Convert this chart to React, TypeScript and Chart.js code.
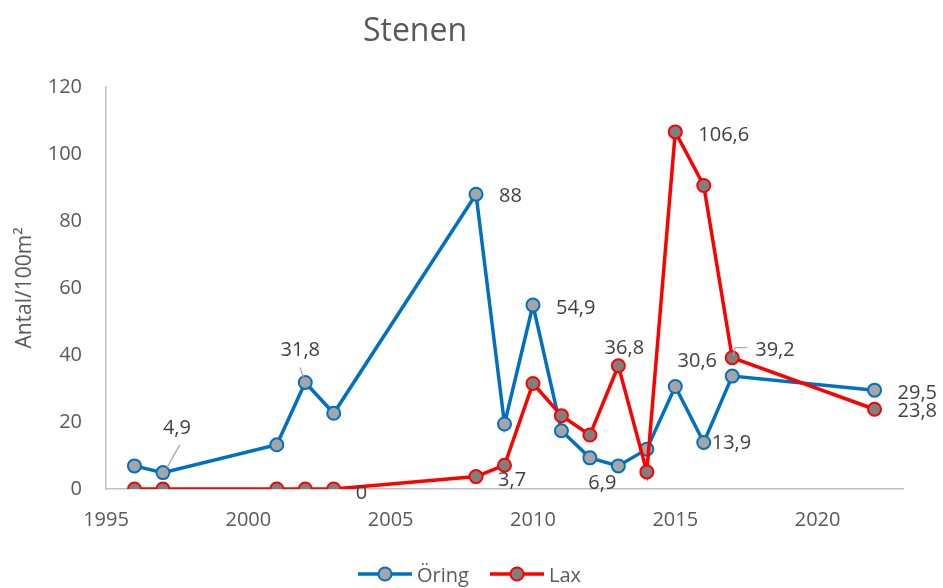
import { useEffect, useRef } from "react";
import { Chart, registerables } from "chart.js";

Chart.register(...registerables);

const title = "Stenen";
const yTitle = "Antal/100m²";
const seriesNames = ["Öring", "Lax"];
const years = [1996, 1997, 2001, 2002, 2003, 2008, 2009, 2010, 2011, 2012, 2013, 2014, 2015, 2016, 2017, 2022];
const oring = [6.9, 4.9, 13.2, 31.8, 22.6, 88, 19.4, 54.9, 17.4, 9.3, 6.9, 11.9, 30.6, 13.9, 33.7, 29.5];
const lax = [0, 0, 0, 0, 0, 3.7, 7.1, 31.5, 21.9, 16.1, 36.8, 5.1, 106.6, 90.6, 39.2, 23.8];
const xMin = 1995;
const xMax = 2023;
const xStep = 5;
const yMin = 0;
const yMax = 120;
const yStep = 20;

const FONT = '"Open Sans", sans-serif';
const BLUE = "#0070C0";
const BLUE_FILL = "#A5A5A5";
const RED = "#FF0000";
const RED_FILL = "#7F7F7F";

type Spec = {
  ds: number;
  idx: number;
  dx: number;
  dy: number;
  align: CanvasTextAlign;
  leader?: [number, number][];
};

// label placement (offsets from the point, text centre/left)
const LABEL_SPECS: Spec[] = [
  { ds: 0, idx: 1, dx: 14, dy: -46, align: "center", leader: [[4, -5], [17, -28]] },
  { ds: 0, idx: 3, dx: -5, dy: -33, align: "center", leader: [[-2, -5], [-5, -15]] },
  { ds: 0, idx: 5, dx: 23, dy: 1, align: "left" },
  { ds: 0, idx: 7, dx: 23, dy: 2, align: "left" },
  { ds: 0, idx: 10, dx: -16, dy: 16, align: "center" },
  { ds: 0, idx: 12, dx: 22, dy: -26, align: "center" },
  { ds: 0, idx: 13, dx: 8, dy: 0, align: "left" },
  { ds: 0, idx: 15, dx: 23, dy: 2, align: "left" },
  { ds: 1, idx: 4, dx: 22, dy: 3, align: "left" },
  { ds: 1, idx: 5, dx: 22, dy: 2, align: "left" },
  { ds: 1, idx: 10, dx: 6, dy: -19, align: "center" },
  { ds: 1, idx: 12, dx: 23, dy: 2, align: "left" },
  { ds: 1, idx: 14, dx: 23, dy: -9, align: "left", leader: [[1, -2], [3, -10], [15, -10]] },
  { ds: 1, idx: 15, dx: 23, dy: 1, align: "left" },
];

const fmt = (v: number) => String(v).replace(".", ",");

const labelPlugin = {
  id: "pointLabels",
  afterDatasetsDraw(chart: any) {
    const ctx = chart.ctx as CanvasRenderingContext2D;
    ctx.save();
    ctx.font = `20px ${FONT}`;
    for (const s of LABEL_SPECS) {
      const el = chart.getDatasetMeta(s.ds).data[s.idx];
      if (!el) continue;
      const x = el.x;
      const y = el.y;
      if (s.leader) {
        ctx.strokeStyle = "#A6A6A6";
        ctx.lineWidth = 1.2;
        ctx.beginPath();
        s.leader.forEach(([lx, ly], i) => {
          if (i === 0) ctx.moveTo(x + lx, y + ly);
          else ctx.lineTo(x + lx, y + ly);
        });
        ctx.stroke();
      }
      const value = chart.data.datasets[s.ds].data[s.idx].y;
      ctx.fillStyle = "#404040";
      ctx.textAlign = s.align;
      ctx.textBaseline = "alphabetic";
      ctx.fillText(fmt(value), x + s.dx, y + s.dy + 7);
    }
    ctx.restore();
  },
};

const decorPlugin = {
  id: "decor",
  afterDraw(chart: any) {
    const ctx = chart.ctx as CanvasRenderingContext2D;
    ctx.save();
    // title
    ctx.font = `32px ${FONT}`;
    ctx.fillStyle = "#595959";
    ctx.textAlign = "center";
    ctx.textBaseline = "alphabetic";
    ctx.fillText(title, 415, 41);
    // legend
    const items = [
      { name: seriesNames[0], color: BLUE, fill: BLUE_FILL, x: 358 },
      { name: seriesNames[1], color: RED, fill: RED_FILL, x: 490 },
    ];
    const ly = 574;
    for (const it of items) {
      ctx.strokeStyle = it.color;
      ctx.lineWidth = 3.5;
      ctx.beginPath();
      ctx.moveTo(it.x, ly);
      ctx.lineTo(it.x + 54, ly);
      ctx.stroke();
      ctx.beginPath();
      ctx.arc(it.x + 27, ly, 6.5, 0, Math.PI * 2);
      ctx.fillStyle = it.fill;
      ctx.fill();
      ctx.lineWidth = 2;
      ctx.stroke();
      ctx.font = `20px ${FONT}`;
      ctx.fillStyle = "#595959";
      ctx.textAlign = "left";
      ctx.fillText(it.name, it.x + 59, 582);
    }
    ctx.restore();
  },
};

export default function App() {
  const ref = useRef<HTMLCanvasElement | null>(null);
  useEffect(() => {
    if (!ref.current) return;
    const chart = new Chart(ref.current, {
      type: "line",
      data: {
        datasets: [
          {
            label: seriesNames[0],
            data: years.map((x, i) => ({ x, y: oring[i] })),
            borderColor: BLUE,
            backgroundColor: BLUE_FILL,
            pointBackgroundColor: BLUE_FILL,
            pointBorderColor: BLUE,
            borderWidth: 3.5,
            pointRadius: 6.5,
            pointBorderWidth: 2,
            tension: 0,
            order: 1,
          },
          {
            label: seriesNames[1],
            data: years.map((x, i) => ({ x, y: lax[i] })),
            borderColor: RED,
            backgroundColor: RED_FILL,
            pointBackgroundColor: RED_FILL,
            pointBorderColor: RED,
            borderWidth: 3.5,
            pointRadius: 6.5,
            pointBorderWidth: 2,
            tension: 0,
            order: 0,
          },
        ],
      },
      options: {
        animation: false,
        responsive: true,
        maintainAspectRatio: false,
        layout: { padding: { left: 0, right: 40, top: 87, bottom: 49 } },
        plugins: {
          legend: { display: false },
          title: { display: false },
          tooltip: { enabled: false },
        },
        scales: {
          x: {
            type: "linear",
            min: xMin,
            max: xMax,
            grid: { display: true, color: "transparent", drawTicks: false },
            border: { display: true, color: "#BFBFBF", width: 1.5 },
            ticks: {
              stepSize: xStep,
              includeBounds: false,
              autoSkip: false,
              maxRotation: 0,
              padding: 19,
              color: "#595959",
              font: { family: FONT, size: 20 },
              callback: (v: any) => String(v),
            },
            afterFit: (s: any) => {
              s.height = 50;
            },
          },
          y: {
            min: yMin,
            max: yMax,
            grid: { display: true, color: "transparent", drawTicks: false },
            border: { display: true, color: "#BFBFBF", width: 1.5 },
            ticks: {
              stepSize: yStep,
              padding: 24,
              color: "#595959",
              font: { family: FONT, size: 20 },
            },
            title: {
              display: true,
              text: yTitle,
              color: "#595959",
              font: { family: FONT, size: 21 },
              padding: { top: 12, bottom: 0 },
            },
            afterFit: (s: any) => {
              s.width = 106;
            },
          },
        },
      },
      plugins: [labelPlugin, decorPlugin],
    });
    return () => chart.destroy();
  }, []);
  return (
    <div style={{ position: "fixed", left: 0, top: 0, width: 943, height: 588, background: "#fff" }}>
      <canvas ref={ref} />
    </div>
  );
}
